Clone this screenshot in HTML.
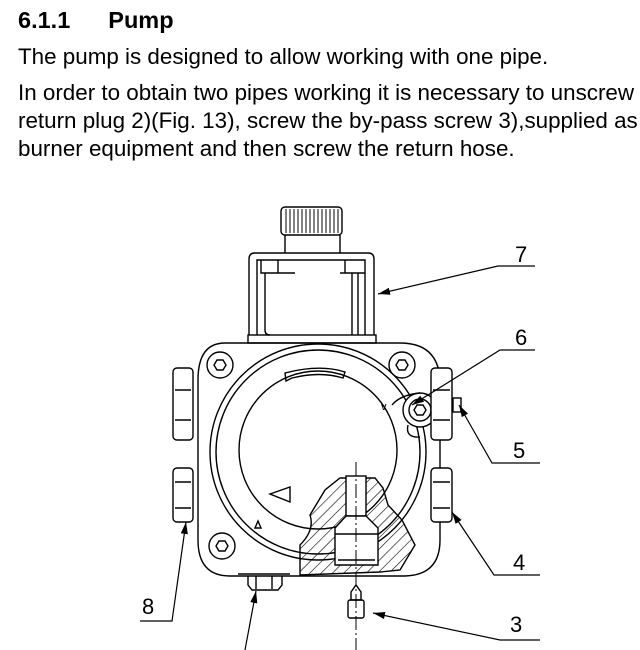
<!DOCTYPE html>
<html><head><meta charset="utf-8"><style>
html,body{margin:0;padding:0;background:#fff;width:640px;height:650px;overflow:hidden;position:relative;font-family:"Liberation Sans",Arial,sans-serif;color:#000}
.t{position:absolute;left:18px;white-space:nowrap;font-size:22.4px}
</style></head><body>
<div class="t" style="top:7px;font-weight:bold;font-size:23.5px">6.1.1<span style="display:inline-block;width:38px"></span>Pump</div>
<div class="t" style="top:44px">The pump is designed to allow working with one pipe.</div>
<div class="t" style="top:80px">In order to obtain two pipes working it is necessary to unscrew the</div>
<div class="t" style="top:108px">return plug 2)(Fig. 13), screw the by-pass screw 3),supplied as</div>
<div class="t" style="top:136px">burner equipment and then screw the return hose.</div>
<svg style="position:absolute;left:0;top:0" width="640" height="650" viewBox="0 0 640 650" fill="none" stroke="#000" stroke-width="1.4">
<defs>
<pattern id="h" width="8" height="8" patternUnits="userSpaceOnUse" patternTransform="rotate(45)"><line x1="0" y1="0" x2="0" y2="8" stroke="#000" stroke-width="1.2"/></pattern>
<marker id="a" markerWidth="10" markerHeight="6" refX="10" refY="3" orient="auto"><path d="M0,0L10,3L0,6z" fill="#000" stroke="none"/></marker>
</defs>
<rect x="281" y="207" width="61" height="28" rx="4"/>
<g stroke-width="1">
<path d="M286 209V233M290 209V233M294 209V233M298 209V233M302 209V233M306 209V233M310 209V233M314 209V233M318 209V233M322 209V233M326 209V233M330 209V233M334 209V233M338 209V233"/>
</g>
<path d="M285 235V253M340 235V253"/>
<path d="M249 335V259Q249 253 255 253H368Q374 253 374 259V335"/>
<path d="M257 335V260H365V335"/>
<path d="M261 260V273H295M340 273H365M278 260V273M345 260V273"/>
<path d="M265 273V330Q265 335 270 335M352 273V335M358 273V335"/>
<rect x="248" y="335" width="128" height="8"/>
<path d="M225 343H400Q438 343 440 380V540Q440 575 405 576H230Q198 576 198 540V380Q198 343 225 343Z"/>
<circle cx="318" cy="452" r="108"/>
<circle cx="318" cy="452" r="102"/>
<circle cx="318" cy="450" r="79"/>
<circle cx="220" cy="365" r="13"/><path d="M214 365l3-5h6l3 5-3 5h-6z"/>
<circle cx="402" cy="365" r="13"/><path d="M396 365l3-5h6l3 5-3 5h-6z"/>
<circle cx="222" cy="546" r="13"/><path d="M216 546l3-5h6l3 5-3 5h-6z"/>
<path d="M285 373Q320 364 345 372L343 378Q320 371 292 378L286 381Z"/>
<circle cx="420" cy="410" r="17" fill="#fff"/><circle cx="420" cy="410" r="11"/><path d="M414 410l3-5h6l3 5-3 5h-6z"/>
<path d="M392 405Q400 395 420 393M408 425Q405 438 420 437"/>
<text x="381" y="410" font-size="11" fill="#000" stroke="none" font-family="Liberation Sans">v</text>
<rect x="173" y="368" width="20" height="72" rx="4" fill="#fff"/><path d="M175 390H191M175 420H191"/>
<rect x="173" y="468" width="20" height="54" rx="4" fill="#fff"/><path d="M175 482H191M175 508H191"/>
<rect x="431" y="368" width="21" height="72" rx="4" fill="#fff"/><path d="M433 390H450M433 420H450"/>
<rect x="453" y="398" width="8" height="14"/>
<rect x="431" y="468" width="21" height="54" rx="4" fill="#fff"/><path d="M433 482H450M433 508H450"/>
<path d="M270 494L290 487V502Z"/>
<path d="M255 528L258 521L261 528Z"/>
<path d="M300 575L300 545Q315 530 310 515L325 490L340 478H375L383 488L388 505L402 520L415 545L400 570L380 572Z" fill="url(#h)"/>
<rect x="346" y="476" width="20" height="40" fill="#fff"/>
<path d="M335 528L346 516H366L378 528V565H335Z" fill="#fff"/>
<path d="M335 534H378M338 560H375"/>
<path d="M356 462V650" stroke-dasharray="14 3 2 3" stroke-width="1"/>
<path d="M238 574H290M248 576V585L252 590H278L282 585V576M256 576V589M272 576V589"/>
<path d="M351 592L356 585L361 592V600H351Z"/>
<rect x="348" y="600" width="16" height="18" rx="2"/>
<g stroke-width="1.2">
<path d="M535 266H498L378 294" marker-end="url(#a)"/>
<path d="M535 350H500L412 405" marker-end="url(#a)"/>
<path d="M540 463H492L459 405" marker-end="url(#a)"/>
<path d="M540 575H494L452 512" marker-end="url(#a)"/>
<path d="M540 640H500L373 613" marker-end="url(#a)"/>
<path d="M140 621H172L186 522" marker-end="url(#a)"/>
<path d="M245 650L256 591" marker-end="url(#a)"/>
</g>
<g fill="#000" stroke="none" font-family="Liberation Sans" font-size="22">
<text x="515" y="262">7</text>
<text x="515" y="345">6</text>
<text x="513" y="458">5</text>
<text x="513" y="570">4</text>
<text x="510" y="632">3</text>
<text x="142" y="614">8</text>
</g>
</svg>
</body></html>
